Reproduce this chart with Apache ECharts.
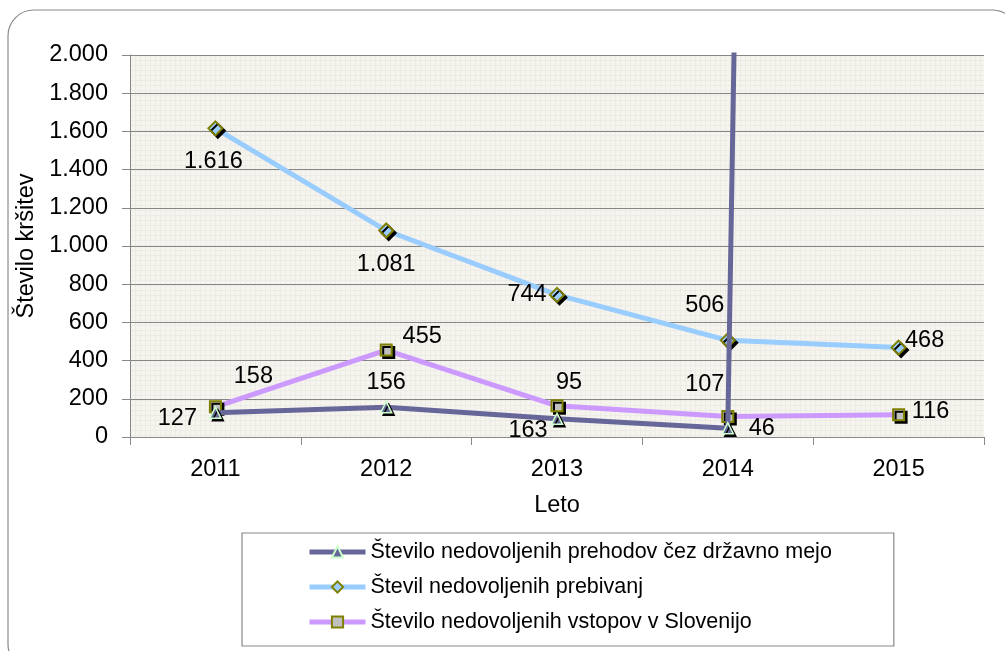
<!DOCTYPE html>
<html>
<head>
<meta charset="utf-8">
<script src="https://cdn.jsdelivr.net/npm/echarts@6/dist/echarts.min.js"></script>
<style>
  html, body { margin: 0; padding: 0; background: #fff; }
  #chart { width: 1005px; height: 651px; }
</style>
</head>
<body>
<div id="chart"></div>
<script>
var years = ['2011', '2012', '2013', '2014', '2015'];
var prehodi = [127, 156, 95, 46, 54000];
var prebivanja = [1616, 1081, 744, 506, 468];
var vstopi = [158, 455, 163, 107, 116];
var yTicks = [0, 200, 400, 600, 800, 1000, 1200, 1400, 1600, 1800, 2000];

// label offsets (px) for each point, like in the original picture
var offPrehodi = [[-38, 6], [0, -25], [12, -36], [34, 0], [0, 0]];
var offPrebivanja = [[-2, 33], [0, 34], [-30, 0], [-23, -35], [26, -7]];
var offVstopi = [[38, -30], [36, -14], [-29, 25], [-23, -32], [32, -3]];

var font = "'Liberation Sans', Arial, sans-serif";
var fs = 23.5;   // axis + data labels
var fsLeg = 21.5;

function fmt(v) {
  return String(v).replace(/\B(?=(\d{3})+(?!\d))/g, '.');
}

// fine grid paper behind the plot
var pat = document.createElement('canvas');
pat.width = 5; pat.height = 5;
var pc = pat.getContext('2d');
pc.fillStyle = '#f6f4ef';
pc.fillRect(0, 0, 5, 5);
pc.fillStyle = '#ecebe4';
pc.fillRect(0, 0, 5, 1);
pc.fillRect(0, 0, 1, 5);

function mkData(vals, offs, hideLast) {
  return vals.map(function (v, i) {
    var d = { value: v, label: { offset: offs[i] } };
    if (hideLast && i === vals.length - 1) d.label.show = false;
    return d;
  });
}

var shadow = { shadowColor: '#000', shadowBlur: 0, shadowOffsetX: 2.5, shadowOffsetY: 2.5 };
var lbl = { show: true, position: 'inside', fontSize: fs, color: '#000', fontFamily: font, formatter: function (p) { return fmt(p.value); } };

var chart = echarts.init(document.getElementById('chart'));
var option = {
  backgroundColor: '#fff',
  animation: false,
  textStyle: { fontFamily: font },
  graphic: [{
    type: 'rect',
    shape: { x: 8, y: 10, width: 1010, height: 660, r: 26 },
    style: { fill: 'none', stroke: '#8a8a8a', lineWidth: 1.2 },
    z: -1
  }],
  grid: {
    left: 130, top: 55, right: 21, bottom: 214,
    show: true, borderWidth: 0,
    backgroundColor: { image: pat, repeat: 'repeat' }
  },
  legend: {
    orient: 'vertical',
    left: 242, top: 533,
    padding: [7, 62, 12, 65],
    itemGap: 11,
    itemWidth: 56, itemHeight: 14,
    borderColor: '#888', borderWidth: 1.2,
    lineStyle: { width: 5 },
    textStyle: { fontSize: fsLeg, color: '#000', fontFamily: font, lineHeight: 24 },
    data: ['Število nedovoljenih prehodov čez državno mejo', 'Števil nedovoljenih prebivanj', 'Število nedovoljenih vstopov v Slovenijo']
  },
  xAxis: {
    type: 'category',
    data: years,
    boundaryGap: true,
    name: 'Leto',
    nameLocation: 'middle',
    nameGap: 57,
    nameTextStyle: { fontSize: fs, color: '#000', fontFamily: font },
    axisLine: { lineStyle: { color: '#888', width: 1 } },
    axisTick: { show: true, length: 8, lineStyle: { color: '#888' } },
    axisLabel: { fontSize: fs, color: '#000', margin: 21, fontFamily: font }
  },
  yAxis: {
    type: 'value',
    min: yTicks[0], max: yTicks[yTicks.length - 1], interval: 200,
    name: 'Število kršitev',
    nameLocation: 'middle',
    nameGap: 91,
    nameTextStyle: { fontSize: fs, color: '#000', fontFamily: font },
    axisLine: { show: true, lineStyle: { color: '#888', width: 1 } },
    axisTick: { show: true, length: 8, lineStyle: { color: '#888' } },
    axisLabel: { fontSize: fs, color: '#000', margin: 22, fontFamily: font, formatter: fmt },
    splitLine: { lineStyle: { color: '#868686', width: 1.2 } }
  },
  series: [{
    name: 'Število nedovoljenih prehodov čez državno mejo',
    type: 'line',
    clip: true,
    data: mkData(prehodi, offPrehodi, true),
    symbol: 'triangle',
    symbolSize: 11,
    lineStyle: { color: '#666699', width: 5 },
    itemStyle: Object.assign({ color: '#666699', borderColor: '#ccffcc', borderWidth: 1.5 }, shadow),
    label: lbl,
    z: 3
  }, {
    name: 'Števil nedovoljenih prebivanj',
    type: 'line',
    data: mkData(prebivanja, offPrebivanja, false),
    symbol: 'diamond',
    symbolSize: 14,
    lineStyle: { color: '#99ccff', width: 5 },
    itemStyle: Object.assign({ color: '#99ccff', borderColor: '#808000', borderWidth: 2 }, shadow),
    label: lbl,
    z: 2
  }, {
    name: 'Število nedovoljenih vstopov v Slovenijo',
    type: 'line',
    data: mkData(vstopi, offVstopi, false),
    symbol: 'rect',
    symbolSize: 11,
    lineStyle: { color: '#cc99ff', width: 5 },
    itemStyle: Object.assign({ color: '#c0c0c0', borderColor: '#808000', borderWidth: 2 }, shadow),
    label: lbl,
    z: 2
  }]
};
chart.setOption(option);
</script>
</body>
</html>
